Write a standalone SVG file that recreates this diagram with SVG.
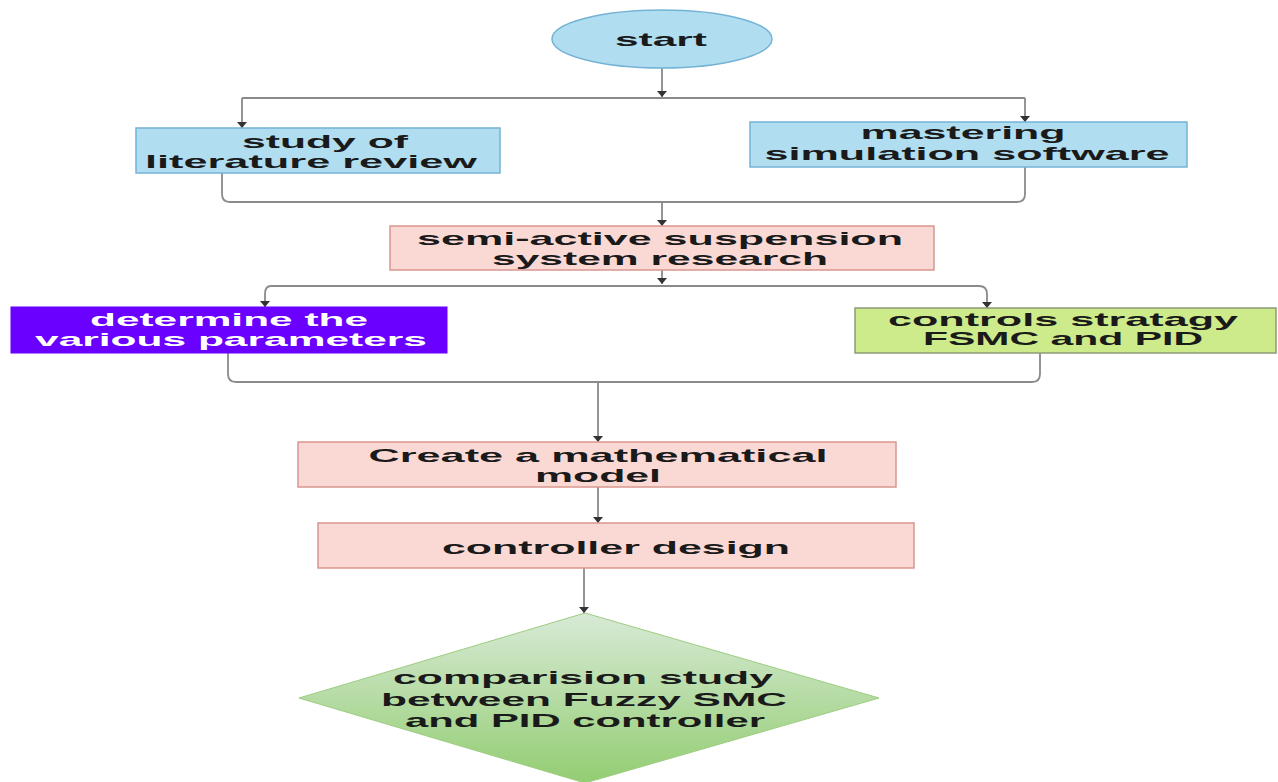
<svg xmlns="http://www.w3.org/2000/svg" width="1278" height="782" viewBox="0 0 1278 782">
  <defs>
    <marker id="ah" viewBox="0 0 6 10" refX="6" refY="5" markerWidth="6" markerHeight="10" markerUnits="userSpaceOnUse" orient="auto">
      <path d="M0,0 L6,5 L0,10 Z" fill="#333333"/>
    </marker>
    <linearGradient id="gd" x1="0" y1="0" x2="0" y2="1">
      <stop offset="0" stop-color="#d8ead6"/>
      <stop offset="1" stop-color="#93cd72"/>
    </linearGradient>
    <style>
      .t { font-family: "Liberation Sans", Arial, sans-serif; font-weight: bold; font-size: 19px; fill: #1a1a1a; }
      .w { fill: #ffffff; }
      .blue { fill: #b1ddf0; stroke: #74b3d6; stroke-width: 1.5; }
      .pink { fill: #fad9d5; stroke: #d9968e; stroke-width: 1.5; }
      .purple { fill: #6a00ff; stroke: #6a00ff; stroke-width: 1; }
      .green { fill: #cdeb8b; stroke: #8a9a7a; stroke-width: 1.5; }
      .c { fill: none; stroke: #8a8a8a; stroke-width: 1.8; }
      .a { marker-end: url(#ah); }
    </style>
  </defs>

  <g id="connectors">
    <path class="c a" d="M662,68 V97"/>
    <path class="c" d="M242,98 H1025"/>
    <path class="c a" d="M242,98 V128"/>
    <path class="c a" d="M1025,98 V122"/>
    <path class="c" d="M222,173 V194 Q222,202 230,202 H1017 Q1025,202 1025,194 V167"/>
    <path class="c a" d="M662,202 V226"/>
    <path class="c a" d="M662,270 V284"/>
    <path class="c" d="M271,286 H979"/>
    <path class="c a" d="M271,286 Q265,286 265,294 V307"/>
    <path class="c a" d="M979,286 Q987,286 987,294 V308"/>
    <path class="c" d="M228,353 V374 Q228,382 236,382 H1032 Q1040,382 1040,374 V353"/>
    <path class="c a" d="M598,382 V442"/>
    <path class="c a" d="M598,487 V523"/>
    <path class="c a" d="M584,568 V613"/>
  </g>

  <g id="start">
    <ellipse class="blue" cx="662" cy="39" rx="110" ry="29"/>
    <text class="t" x="661" y="46" text-anchor="middle" textLength="92" lengthAdjust="spacingAndGlyphs">start</text>
  </g>

  <g id="literature">
    <rect class="blue" x="136" y="128" width="364" height="45"/>
    <text class="t" x="325" y="148" text-anchor="middle" textLength="166" lengthAdjust="spacingAndGlyphs">study of</text>
    <text class="t" x="311" y="168" text-anchor="middle" textLength="332" lengthAdjust="spacingAndGlyphs">literature review</text>
  </g>

  <g id="software">
    <rect class="blue" x="750" y="122" width="437" height="45"/>
    <text class="t" x="963" y="139" text-anchor="middle" textLength="205" lengthAdjust="spacingAndGlyphs">mastering</text>
    <text class="t" x="967" y="160" text-anchor="middle" textLength="405" lengthAdjust="spacingAndGlyphs">simulation software</text>
  </g>

  <g id="research">
    <rect class="pink" x="390" y="226" width="544" height="44"/>
    <text class="t" x="660" y="245" text-anchor="middle" textLength="486" lengthAdjust="spacingAndGlyphs">semi-active suspension</text>
    <text class="t" x="660" y="265" text-anchor="middle" textLength="336" lengthAdjust="spacingAndGlyphs">system research</text>
  </g>

  <g id="parameters">
    <rect class="purple" x="11" y="307" width="436" height="46"/>
    <text class="t w" x="229" y="326" text-anchor="middle" textLength="278" lengthAdjust="spacingAndGlyphs">determine the</text>
    <text class="t w" x="231" y="346" text-anchor="middle" textLength="392" lengthAdjust="spacingAndGlyphs">various parameters</text>
  </g>

  <g id="strategy">
    <rect class="green" x="855" y="308" width="421" height="45"/>
    <text class="t" x="1063" y="326" text-anchor="middle" textLength="350" lengthAdjust="spacingAndGlyphs">controls stratagy</text>
    <text class="t" x="1063" y="345" text-anchor="middle" textLength="280" lengthAdjust="spacingAndGlyphs">FSMC and PID</text>
  </g>

  <g id="model">
    <rect class="pink" x="298" y="442" width="598" height="45"/>
    <text class="t" x="598" y="462" text-anchor="middle" textLength="459" lengthAdjust="spacingAndGlyphs">Create a mathematical</text>
    <text class="t" x="598" y="482" text-anchor="middle" textLength="126" lengthAdjust="spacingAndGlyphs">model</text>
  </g>

  <g id="design">
    <rect class="pink" x="318" y="523" width="596" height="45"/>
    <text class="t" x="616" y="554" text-anchor="middle" textLength="348" lengthAdjust="spacingAndGlyphs">controller design</text>
  </g>

  <g id="comparison">
    <polygon points="585,613 879,698 585,783 299,698" fill="url(#gd)" stroke="#9ccc80" stroke-width="1"/>
    <text class="t" x="583" y="684" text-anchor="middle" textLength="380" lengthAdjust="spacingAndGlyphs">comparision study</text>
    <text class="t" x="584" y="706" text-anchor="middle" textLength="406" lengthAdjust="spacingAndGlyphs">between Fuzzy SMC</text>
    <text class="t" x="585" y="727" text-anchor="middle" textLength="360" lengthAdjust="spacingAndGlyphs">and PID controller</text>
  </g>
</svg>
